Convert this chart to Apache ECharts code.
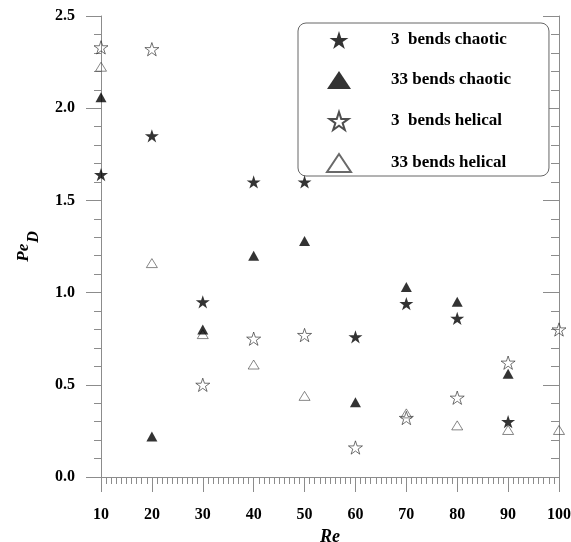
<!DOCTYPE html>
<html><head><meta charset="utf-8">
<script src="https://cdn.jsdelivr.net/npm/echarts@6/dist/echarts.min.js"></script>
<style>html,body{margin:0;padding:0;background:#fff}#c{width:571px;height:542px}</style>
</head><body><div id="c"></div>
<script>
// ---- data ----
const seriesNames = ['3  bends chaotic', '33 bends chaotic', '3  bends helical', '33 bends helical'];
const chaotic3Re  = [10, 20, 30, 40, 50, 60, 70, 80, 90];
const chaotic3Pe  = [1.64, 1.85, 0.95, 1.60, 1.60, 0.76, 0.94, 0.86, 0.30];
const chaotic33Re = [10, 20, 30, 40, 50, 60, 70, 80, 90];
const chaotic33Pe = [2.06, 0.22, 0.80, 1.20, 1.28, 0.405, 1.03, 0.95, 0.56];
const helical3Re  = [10, 20, 30, 40, 50, 60, 70, 80, 90, 100];
const helical3Pe  = [2.33, 2.32, 0.50, 0.75, 0.77, 0.16, 0.32, 0.43, 0.62, 0.80];
const helical33Re = [10, 20, 30, 40, 50, 70, 80, 90, 100];
const helical33Pe = [2.225, 1.16, 0.775, 0.61, 0.44, 0.345, 0.28, 0.255, 0.255];
const xRange = [10, 100, 10];
const yRange = [0, 2.5, 0.5];

const zip = (xs, ys) => xs.map((x, i) => [x, ys[i]]);
const STAR = 'path://M50 0L61.23 34.55L97.55 34.55L68.16 55.9L79.39 90.45L50 69.1L20.61 90.45L31.84 55.9L2.45 34.55L38.77 34.55Z';
const FONT = 'Liberation Serif';
const AX = '#8c8c8c';

function xAxisCfg(top) {
  return {
    type: 'value', min: xRange[0], max: xRange[1], interval: xRange[2],
    position: top ? 'top' : 'bottom',
    axisLine: { show: true, lineStyle: { color: AX, width: 1 } },
    axisTick: { show: true, inside: !!top, length: 15, lineStyle: { color: AX } },
    minorTick: { show: true, splitNumber: 10, length: 7, lineStyle: { color: AX } },
    splitLine: { show: false }, minorSplitLine: { show: false },
    axisLabel: top ? { show: false } : { margin: 30, color: '#000', fontFamily: FONT, fontWeight: 'bold', fontSize: 16 },
    name: top ? '' : 'Re', nameLocation: 'middle', nameGap: 42,
    nameTextStyle: { fontFamily: FONT, fontStyle: 'italic', fontWeight: 'bold', fontSize: 18, color: '#000' }
  };
}
function yAxisCfg(right) {
  return {
    type: 'value', min: yRange[0], max: yRange[1], interval: yRange[2],
    position: right ? 'right' : 'left',
    axisLine: { show: true, lineStyle: { color: AX, width: 1 } },
    axisTick: { show: true, inside: !!right, length: right ? 16 : 15, lineStyle: { color: AX } },
    minorTick: { show: true, splitNumber: 5, length: right ? 8 : 7, lineStyle: { color: AX } },
    splitLine: { show: false }, minorSplitLine: { show: false },
    axisLabel: right ? { show: false } : { margin: 26, color: '#000', fontFamily: FONT, fontWeight: 'bold', fontSize: 16, formatter: v => v.toFixed(1) },
    name: right ? '' : '{a|Pe}{b|D}', nameLocation: 'middle', nameGap: 69, nameRotate: 90,
    nameTextStyle: {
      color: '#000',
      rich: {
        a: { fontFamily: FONT, fontStyle: 'italic', fontWeight: 'bold', fontSize: 17, lineHeight: 17, verticalAlign: 'top', color: '#000' },
        b: { fontFamily: FONT, fontStyle: 'italic', fontWeight: 'bold', fontSize: 16, lineHeight: 16, padding: [11, 0, 0, 1], verticalAlign: 'top', color: '#000' }
      }
    }
  };
}

const chart = echarts.init(document.getElementById('c'), null, { renderer: 'canvas' });
chart.setOption({
  animation: false,
  backgroundColor: '#fff',
  grid: { left: 101, right: 12, top: 16, bottom: 65, containLabel: false, outerBoundsMode: 'none' },
  xAxis: [xAxisCfg(false), xAxisCfg(true)],
  yAxis: [yAxisCfg(false), yAxisCfg(true)],
  legend: {
    orient: 'vertical', left: 298, top: 23,
    padding: [8, 38, 3, 28], itemWidth: 24, itemHeight: 18, itemGap: 22,
    borderColor: '#666', borderWidth: 1, borderRadius: 8, backgroundColor: '#fff',
    textStyle: { fontFamily: FONT, fontWeight: 'bold', fontSize: 17, color: '#000', padding: [0, 0, 0, 35] },
    data: seriesNames
  },
  series: [
    { name: seriesNames[2], type: 'scatter', data: zip(helical3Re, helical3Pe), symbol: STAR, symbolSize: 14, symbolKeepAspect: true,
      itemStyle: { color: 'rgba(255,255,255,0)', borderColor: '#222', borderWidth: 0.8 }, z: 2 },
    { name: seriesNames[3], type: 'scatter', data: zip(helical33Re, helical33Pe), symbol: 'triangle', symbolSize: [11, 9],
      itemStyle: { color: 'rgba(255,255,255,0)', borderColor: '#444', borderWidth: 0.8 }, z: 2 },
    { name: seriesNames[1], type: 'scatter', data: zip(chaotic33Re, chaotic33Pe), symbol: 'triangle', symbolSize: [11, 10],
      itemStyle: { color: '#000' }, z: 3 },
    { name: seriesNames[0], type: 'scatter', data: zip(chaotic3Re, chaotic3Pe), symbol: STAR, symbolSize: 14, symbolKeepAspect: true,
      itemStyle: { color: '#000' }, z: 4 }
  ]
});
</script></body></html>
